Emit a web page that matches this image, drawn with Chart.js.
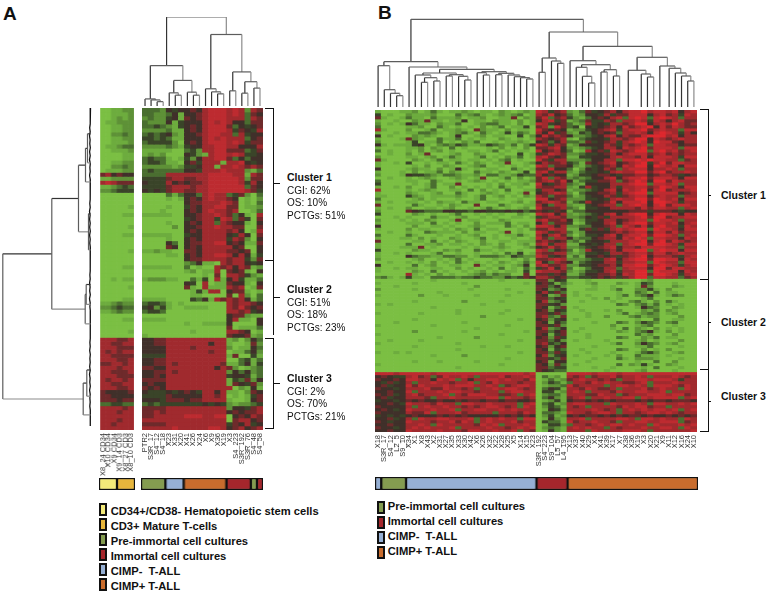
<!DOCTYPE html>
<html>
<head>
<meta charset="utf-8">
<title>Methylation clusters</title>
<script src="https://cdn.jsdelivr.net/npm/chart.js@4"></script>
<style>
  html, body { margin: 0; background: #fff; }
  body { position: relative; width: 775px; height: 599px; overflow: hidden; font-family: "Liberation Sans", Arial, sans-serif; color: #111; }
  canvas { position: absolute; filter: blur(0.5px); }
  .t { position: absolute; white-space: pre; }
  .b { font-weight: bold; }
  .line { position: absolute; background: #111; }
  .swatch { position: absolute; box-sizing: border-box; border: 2px solid #111; }
</style>
</head>
<body>
<script>
// cell levels: 0 bright green .. 4/5 dark .. 9 bright red
const heatColors = ['#7bbf43', '#6dac3e', '#5e9137', '#4a6e30', '#3a4429', '#40302a', '#6e2a2b', '#a02a2e', '#bd2b30', '#dd282e'];

const labelsA1 = ['X8_24 CD34', 'X10 CD34', 'X9 CD34', 'X9_14 CD3', 'X8_27 CD3', 'X8_10 CD3'];
const labelsA2 = ['PTR2', 'S3R_17', 'S4_12', 'S4_18', 'X23', 'X31', 'X20', 'X41', 'X26', 'X24', 'X6', 'X9', 'X36', 'X19', 'X3', 'S4_223', 'S3R_192', 'S3R_76', 'S4_48', 'S4_58'];
const labelsB = ['X18', 'S3R_17', 'S4_12', 'L2_5', 'S9_10', 'X34', 'X1', 'X8', 'X43', 'X2', 'X31', 'X27', 'X35', 'X33', 'X30', 'X42', 'X6', 'X26', 'X32', 'X22', 'X28', 'X25', 'X5', 'X14', 'X15', 'X23', 'S3R_192', 'S4_223', 'S9_104', 'L5_57', 'L4_195', 'X13', 'X37', 'X40', 'X29', 'X4', 'X41', 'X39', 'X17', 'X7', 'X38', 'X36', 'X19', 'X3', 'X20', 'X21', 'X9', 'X11', 'X12', 'X16', 'X24', 'X10'];

const rowsA1 = [
  '001122','001112','001212','011222','001122','001122','002232','001122','001112','011233','001112','000011','000011','001122','002232','011122',
  '675655','112222','787666','112343','223444',
  '000000','000000','000000','000001','000000','000011','000000','000000','000001','000000','000011','000000','000000','000000','000001','000000','000000',
  '000000','000011','000000','000000','001011','000000','000001','000000','000000','000011',
  '112322','223433','112322',
  '000000','000011','000000','000000','000001','000000',
  '777667','776677','777666','767677','776666','777667','667767','777677','776667','777666','767767','776677','777667','655556','665555','666566',
  '334433','777767','777677','777777','777677','776777','777777'
];

const rowsA2 = [
  '3332 545 565 7888 787 2 76','3322 351 556 7888 787 3 65','2322 451 656 7888 777 3 76','3222 514 555 7878 755 3 66',
  '3343 214 565 7888 635 4 56','2222 311 565 7888 746 5 47','3434 521 556 7887 737 4 55','4434 311 555 7878 777 3 56',
  '3444 420 565 7888 787 4 66','2222 321 455 7788 775 5 57','1111 100 342 7788 666 3 46','1212 000 542 1788 787 4 45',
  '3433 101 425 7788 635 3 55','3443 110 564 7771 778 5 45','2222 212 445 7717 787 6 76','3433 333 554 7778 777 2 13',
  '3333 777 777 7888 877 1 76','4444 677 667 7888 887 2 66','5444 756 566 7888 887 4 75','4444 677 767 7888 888 3 65','5454 677 667 7888 888 7 64',
  '0000 313 553 7877 346 2 03','0000 101 565 7877 650 1 02','0000 000 566 7778 760 1 03','0000 100 465 7788 660 1 12',
  '0001 000 565 7877 670 0 13','1111 100 556 7787 635 1 07','0000 000 456 7748 736 4 06','0000 100 565 7737 655 1 05',
  '0000 020 556 7787 766 0 06','0000 000 565 7777 675 0 17','1111 100 455 7777 547 5 06','0000 100 565 7777 476 2 05',
  '0000 530 566 7788 565 1 16','0000 650 565 7777 756 0 05','1121 100 665 7777 665 6 05','0000 110 565 7788 757 5 14','0000 000 566 7777 677 4 26',
  '0000 000 235 1107 677 5 45','1111 100 301 0076 757 6 12','0000 000 120 1170 656 1 05','0000 000 000 1060 776 4 21','1222 110 031 4071 574 1 13',
  '0000 000 540 7011 655 1 05','0000 000 610 7111 767 0 16','0000 000 014 1770 566 1 01','0000 000 011 0000 607 2 03','1111 000 043 5176 767 5 13',
  '3443 101 000 0000 767 7 65','4524 100 111 1000 768 6 56','3443 000 000 0000 776 7 45',
  '0000 000 000 0000 566 2 11','1111 000 000 0000 571 1 05','0000 000 100 1111 500 0 05','0000 000 000 0000 601 1 13','0000 000 010 0000 776 5 01','1000 000 000 0000 655 6 12',
  '5566 777 777 7777 120 2 53','5566 777 777 7577 100 1 62','5555 777 767 7777 201 1 53','5555 777 777 7677 011 3 52',
  '4444 777 777 7777 160 0 41','5566 777 777 7777 003 4 13','5566 767 777 7776 113 5 14','6655 777 777 7757 620 1 23',
  '5566 767 777 7777 253 5 23','5565 777 777 7777 455 4 13','6666 777 777 7777 143 6 25','5655 777 777 7777 165 4 62',
  '6565 777 777 7777 702 1 51','5444 545 654 7757 110 2 65','4444 655 555 7767 010 1 46','5554 666 566 7777 100 1 56',
  '3434 444 444 5454 212 2 34','6666 777 777 7777 255 4 67','6676 777 777 7777 565 6 67','6677 777 888 7788 056 5 76',
  '7777 777 777 7777 067 7 56','6666 777 777 7777 465 7 45','7777 787 777 7887 567 5 67'
];

const rowsB = [
  '1 0001 1201310 1121011 0210121 87467 213645 67578 89788 78578','4 0100 2111200 0312310 1212301 76856 312554 74668 88578 67487',
  '6 1001 3110311 1201120 0116021 68367 421356 57838 98389 87377','1 0010 0216110 1150110 2110201 57846 123644 76377 87487 57866',
  '2 0101 5311021 1300123 3110201 87456 312745 47767 99578 79767','3 0000 1120031 0101020 1301140 67286 340545 67586 78958 68766',
  '7 1000 2001301 1210621 1020110 86565 122456 78478 89678 77388','1 0010 1133210 1231031 0141320 75846 214356 56377 87589 87475',
  '5 0100 0212100 1500120 1100402 58676 522345 78576 68999 78577','1 0001 6210031 1301010 0210101 76567 103455 47767 99587 67877',
  '2 0000 1401130 1021300 1011210 56357 332645 67478 98598 86577','5 1011 1451023 2431124 3213024 87476 125555 76476 78388 77566',
  '1 0000 1120210 3010001 0201020 66785 212345 77587 89688 87388','3 0100 1020120 1001101 3010110 85675 301756 48767 99389 78678',
  '0 0100 2016000 1200210 0100401 46876 223445 67578 88678 67677','2 0000 1101201 3100130 1021301 78656 114455 57877 68588 87488',
  '6 1000 0210130 1101101 0230100 86477 222355 77388 98988 77367','1 0010 4001011 0310210 1160012 57667 431656 78567 89479 68877',
  '1 0000 0102002 1001230 0101010 87366 521345 67587 99598 78588','5 0000 1211020 1510101 1003101 66855 302545 76378 88577 87377',
  '1 0001 0201130 2100311 0210140 78477 213445 47877 99689 67787','2 0001 5443213 3211203 3112433 75655 124456 65466 77567 76456',
  '0 0100 1012100 1210160 0130201 68376 232355 78578 89688 87588','3 0000 1100310 0101210 1010112 67868 513446 67367 98599 68777',
  '4 0000 0101301 1600001 0201120 85467 321555 57778 99388 78377','1 0010 2001300 2010101 0310100 76677 214745 57477 88679 87588',
  '7 0000 1012100 1103020 1030011 47756 122345 78587 89589 67778','1 0000 2100120 0310012 1010160 56787 203556 67478 99388 88567',
  '1 1000 4210111 1210130 1201021 76366 312455 76467 88578 77377','3 0000 0120100 0100130 0100100 88567 222445 47877 99698 78588',
  '1 0100 1101021 1031101 1001201 67876 134755 68588 89599 87477','6 0000 0310010 2100600 0310011 75377 211456 77378 98589 68887',
  '1 0100 2001101 2001013 1010120 86667 320445 57777 68688 77378','2 0000 6543335 5443554 4454534 65465 133555 55556 66466 65455',
  '4 0000 0210100 1300101 0100210 87857 212345 78578 99589 88587','0 0010 1000311 0120010 1001101 46776 223546 47777 89699 67788',
  '2 0001 0102100 1601100 0210000 78667 512445 77567 88398 87377','1 0000 1110301 0100201 1130110 57366 401455 78578 99688 78578',
  '5 0000 0200110 1001210 0031020 88757 223355 67387 68589 77487','1 0000 2011001 0210301 1000102 66877 114646 47878 99398 87588',
  '0 0100 1003211 1020110 0160100 87467 312555 56767 88588 68677','3 0000 3100010 0101200 1011310 75786 202445 78578 89699 87378',
  '1 0001 1020100 2100130 1001001 86377 523356 77587 98388 77587','6 0000 0110301 0210020 0110111 67656 231455 47778 89589 68767',
  '1 0000 3001120 1101021 0200120 78477 114545 77378 99699 87488','1 0001 1160100 0010100 1210012 56867 223456 78577 68888 77377',
  '4 0000 0211002 1200311 0100100 87356 302755 67588 99389 88588','1 0010 1000130 0100100 1031401 76677 212445 47767 88688 67877',
  '1 0000 5322113 3220133 3214322 87456 131556 56467 89577 76478','2 0000 0120010 1301000 1001020 66787 222344 78578 99699 88587',
  '0 0100 1010201 0310101 0210131 85376 513455 77477 88398 77388','5 0000 0301200 1100610 1101250 78667 224456 67588 99689 87478',
  '1 0010 1100110 0201001 0301031 46857 301355 77378 88599 68877','1 0000 0210301 0010120 1011040 87776 212445 78477 99398 88587',
  '0 0000 7101020 1001231 3220060 66465 113556 67587 99699 87478','2 3101 4110333 3233433 2243465 77656 334456 56467 99388 77367',
  '0 0000 0000100 0000000 0100000 66254 000100 00000 01200 00000','1 0000 0100000 0010000 0000010 56413 100120 00210 14300 01000',
  '0 0010 0000000 0000200 0000000 66352 000010 01000 16200 02100','2 0000 0100000 0001000 0010000 65235 000110 01300 22410 20000',
  '0 0000 0000010 0000000 0000100 57463 010000 00100 32030 11000','1 0000 0020001 0000100 0010000 65126 010100 00130 23510 13200',
  '0 0000 0000000 0000000 0000000 66354 000010 20100 01300 00000','0 0000 0100000 0020000 0100000 57235 001000 01002 31020 31000',
  '1 0100 0000000 0000010 0000000 66452 000000 00320 23130 10100','0 0000 0000100 0000000 0000000 65136 010000 00000 15320 02100',
  '0 0000 0000000 0100000 0010000 56254 001000 10200 02130 21000','1 0000 0010000 0100000 0100000 66463 000100 00130 12320 12000',
  '0 0000 0000000 0000020 0000000 67326 000100 20002 31220 00200','0 0000 0100000 0000000 0000100 56245 010000 00000 10030 01100',
  '0 0010 0000000 0010000 0000000 65153 000010 00320 24320 23000','1 0000 0000100 0000000 0010000 66462 000000 02000 12300 01000',
  '0 0000 0000000 0000100 0000000 57235 001000 01030 21020 10100','0 0000 0200000 0010000 0000010 66356 010000 00210 23510 20100',
  '1 0000 0000000 0000000 0100000 65146 000100 00000 31200 02000','0 0000 0000010 0000200 0000000 56264 000100 00320 02130 11000',
  '0 0100 0010000 0000000 0000100 66352 010000 10000 12010 00200','1 0000 0000000 0100000 0000000 67435 000000 01300 25320 12000',
  '0 0000 0100000 0000010 0010000 56256 000010 00000 11300 00100','0 0000 0000000 0100000 0000000 65143 001000 00320 02010 20000',
  '1 0010 1000000 0000000 0000100 66364 000100 01000 13420 01200','0 0000 0000100 0020000 0000000 57245 010000 10200 31110 10000',
  '0 0000 0000000 0000000 0010000 66436 000010 00310 22210 00100','0 0000 0100010 0000100 0000000 56155 000100 00000 10030 02000',
  '1 0000 0000000 0000000 0100000 65263 010000 00302 14100 21000','0 0000 0000000 0100000 0000000 66344 000010 01000 01030 00100',
  '0 0000 0000000 0000000 0000000 65433 000000 10000 12000 01000',
  '8 8878 8888788 8888888 8888878 00000 888878 88788 88888 88888','5 6544 7867368 7787377 7867787 03120 767367 78677 87377 78767',
  '6 5565 8877587 8375778 8787768 01312 678776 76377 88788 87477','5 4645 7377877 6778376 8777677 02431 377687 87766 78377 78777',
  '5 6455 8687778 7888778 7367887 01223 867777 37887 87388 87687','6 5545 7778668 7767377 8788767 03541 776876 67377 78678 77387',
  '5 5655 8377787 8877677 7378877 04412 787377 76877 88778 37777','6 5645 7867778 3768887 7667378 02331 777668 77367 77888 78867',
  '5 6455 7776377 8777778 8387767 03521 678377 87788 38788 88378','4 5545 6565565 5656656 6566556 01241 566565 65666 56566 56665',
  '5 5654 8777687 7388778 7777378 03412 788777 38777 87388 77878','6 5555 7378778 7767678 8767387 02431 767377 77687 88677 37777',
  '5 6545 8777877 8377887 7878777 01542 777787 67378 78788 78378','6 5555 7668377 7867777 3777687 03321 877678 87377 67887 87677',
  '4 5454 5655565 6565555 5656565 02412 565665 65656 65655 65656','5 5645 7387788 7778378 7877388 01521 778377 77887 38878 77387',
  '6 5455 8777677 8687378 7778677 04331 867787 76377 88778 88367','5 5655 7787387 7777687 8377787 01442 377678 78878 77387 77878',
  '6 5545 7878777 8377778 7767878 02321 787877 37677 78778 87387','5 5655 8777787 7768877 8778376 01521 777387 77788 87377 77778'
];

// dendrograms, hclust style: [left, right, height], negative = leaf, positive = earlier merge (1-based)
const mergesTopA = [
  [-3, -4, 4.3], [-2, 1, 6], [-1, 2, 7], [-6, -7, 10.7], [-5, 4, 13], [-9, -10, 10.7], [-8, 6, 13.7], [5, 7, 25.3], [3, 8, 40],
  [-13, -14, 12], [-12, 10, 14], [-11, 11, 17], [-15, -16, 15], [-17, -18, 12.7], [-19, -20, 17.7], [14, 15, 24], [13, 16, 33.7],
  [12, 17, 70.7], [9, 18, 88]
];
const leavesTopA = [0, 1, 2, 3, 4, 5, 6, 7, 8, 9, 10, 11, 12, 13, 14, 15, 16, 17, 18, 19];

const mergesTopB = [
  [-4, -5, 11.3], [-3, 1, 13.7], [-2, 2, 17.3], [-1, 3, 41.3],
  [-8, -9, 24.7], [-10, -11, 26], [5, 6, 29.3], [-7, 7, 32],
  [-12, -13, 31], [-15, -16, 27], [-14, 10, 30.7], [9, 11, 32.3], [8, 12, 34],
  [-18, -19, 32], [-17, 14, 34.3], [-20, -21, 32.3], [-25, -26, 28], [-24, 17, 29.3], [-23, 18, 30.3], [-22, 19, 32],
  [16, 20, 33.7], [15, 21, 35.3], [13, 22, 37.7], [-6, 23, 40], [4, 24, 45.3],
  [-27, -28, 34.7], [-30, -31, 43.7], [-29, 27, 46], [26, 28, 49],
  [-35, -36, 24], [-34, 30, 30.7], [-33, 31, 39.7], [-37, -38, 35], [-39, -40, 31], [33, 34, 37.3], [32, 35, 42.3], [-32, 36, 46.3],
  [-43, -44, 30], [-42, 38, 33], [-41, 39, 36.7],
  [-49, -50, 26], [-48, 41, 31], [-47, 42, 34], [-46, 43, 38.7], [-45, 44, 41], [40, 45, 49.7],
  [37, 46, 60.7], [29, 47, 75], [25, 48, 87.7]
];
const leavesTopB = [0, 1, 2, 3, 4, 5, 6, 7, 8, 9, 10, 11, 12, 13, 14, 15, 16, 17, 18, 19, 20, 21, 22, 23, 24, 25, 26, 27, 28, 29, 30, 31, 32, 33, 34, 35, 36, 37, 38, 39, 40.4, 42.5, 43.5, 44.5, 45.5, 47, 48, 49, 50, 51];

const mergesLeftA = [
  [-1, -2, 3], [1, -3, 5], [-4, -5, 2], [2, 3, 12], [-6, -7, 4.3], [5, -8, 5.3], [4, 6, 38.7], [-9, -10, 3.7], [8, -11, 7.3], [7, 9, 87.7]
];
const leavesLeftA = [6, 13.3, 18.1, 26.1, 35.2, 43.9, 48.9, 53.8, 65.4, 72, 76.7];
// the dense low branches next to the matrix, one height per row
const fringeLeftA = [0, 0.3, 0.1, 0.5, 0.2, 0.8, 0.3, 1, 0.4, 0.7, 0.2, 0.9, 0.3, 1, 0.2, 0.6, 0.3, 0.9, 0.2, 0.5, 0.3, 0.1, 0.4, 0.2, 0.7, 0.3, 1, 0.4, 0.9, 0.3, 0.8, 0.2, 0.9, 0.3, 0.7, 0.2, 0.4, 0.1, 0.3, 0.2, 0.5, 0.2, 0.6, 0.3, 0.9, 0.4, 0.8, 0.2, 1, 0.3, 0.6, 0.2, 0.4, 0.1, 0.3, 0.1, 0.2, 0.4, 0.2, 0.6, 0.3, 0.8, 0.2, 0.6, 0.3, 0.8, 0.3, 1, 0.4, 0.7, 0.2, 0.9, 0.3, 0.6, 0.3, 0.7, 0.2, 0.4, 0.2, 0.3, 0];

// colour strip under each matrix: samples per group
const groupColors = { yellow: '#f3ea7a', gold: '#e7b63c', green: '#849c50', red: '#a5262c', blue: '#96b0d5', orange: '#c96c2d' };
const stripA1 = [3, 3];
const stripA1Colors = ['yellow', 'gold'];
const stripA2 = [4, 3, 7, 4, 1, 1];
const stripA2Colors = ['green', 'blue', 'orange', 'red', 'green', 'red'];
const stripB = [1, 4, 21, 5, 21];
const stripBColors = ['blue', 'green', 'blue', 'red', 'orange'];

const clusterTextA = [
  ['Cluster 1', 'CGI: 62%', 'OS: 10%', 'PCTGs: 51%'],
  ['Cluster 2', 'CGI: 51%', 'OS: 18%', 'PCTGs: 23%'],
  ['Cluster 3', 'CGI: 2%', 'OS: 70%', 'PCTGs: 21%']
];
const legendA = [['CD34+/CD38- Hematopoietic stem cells', 'yellow'], ['CD3+ Mature T-cells', 'gold'], ['Pre-immortal cell cultures', 'green'], ['Immortal cell cultures', 'red'], ['CIMP-  T-ALL', 'blue'], ['CIMP+ T-ALL', 'orange']];
const legendB = [['Pre-immortal cell cultures', 'green'], ['Immortal cell cultures', 'red'], ['CIMP-  T-ALL', 'blue'], ['CIMP+ T-ALL', 'orange']];

function addCanvas(x, y, w, h) {
  const c = document.createElement('canvas');
  c.width = w;
  c.height = h;
  c.style.left = x + 'px';
  c.style.top = y + 'px';
  c.style.width = w + 'px';
  c.style.height = h + 'px';
  document.body.appendChild(c);
  return c;
}

function addText(text, x, cy, size, bold) {
  const d = document.createElement('div');
  d.className = bold ? 't b' : 't';
  d.textContent = text;
  d.style.left = x + 'px';
  d.style.top = (cy - size * 0.6) + 'px';
  d.style.fontSize = size + 'px';
  d.style.lineHeight = (size * 1.2) + 'px';
  document.body.appendChild(d);
}

function addLine(x, y, w, h) {
  const d = document.createElement('div');
  d.className = 'line';
  d.style.cssText = `left:${x}px;top:${y}px;width:${w}px;height:${h}px`;
  document.body.appendChild(d);
}

function bracket(x1, x2, x3, y1, y2, tickY, openEnd) {
  addLine(x1, y1, x2 - x1, 1.4);
  if (!openEnd) addLine(x1, y2, x2 - x1, 1.4);
  addLine(x2, y1, 1.4, y2 - y1 + 1.4);
  addLine(x2, tickY, x3 - x2, 1.4);
}

function heatmap(x, y, w, h, rows, labels) {
  const pad = 5;
  const labelArea = 46;
  const cells = rows.map(r => r.replace(/ /g, '').split('').map(Number));
  new Chart(addCanvas(x - pad, y, w + pad * 2, h + labelArea), {
    type: 'bar',
    data: {
      labels,
      datasets: cells.map(row => ({
        data: row.map(() => 1),
        backgroundColor: row.map(v => heatColors[v]),
        barPercentage: 1,
        categoryPercentage: 1,
        borderWidth: 0
      }))
    },
    options: {
      responsive: false,
      animation: false,
      layout: { padding: { left: pad, right: pad, top: 0, bottom: 0 } },
      plugins: { legend: { display: false }, tooltip: { enabled: false } },
      scales: {
        x: {
          stacked: true,
          grid: { display: false, drawTicks: false },
          border: { display: false },
          ticks: { autoSkip: false, minRotation: 90, maxRotation: 90, padding: 3, color: '#333', font: { family: 'Liberation Sans', size: 7.5 } },
          afterFit(s) { s.height = labelArea; s.paddingLeft = 0; s.paddingRight = 0; }
        },
        y: { stacked: true, reverse: true, min: 0, max: cells.length, display: false }
      }
    }
  });
}

function dendrogram(x, y, w, h, merges, leaves, span, maxHeight, horizontal, fringe) {
  const nodes = [];
  const pos = m => m < 0 ? { at: leaves[-m - 1], h: 0 } : nodes[m - 1];
  const pt = (at, ht) => horizontal ? { x: ht, y: at } : { x: at, y: ht };
  const datasets = merges.map(([l, r, ht]) => {
    const a = pos(l), b = pos(r);
    nodes.push({ at: (a.at + b.at) / 2, h: ht });
    return {
      data: [pt(a.at + 0.5, a.h), pt(a.at + 0.5, ht), pt(b.at + 0.5, ht), pt(b.at + 0.5, b.h)],
      showLine: true,
      pointRadius: 0,
      borderWidth: 1.2,
      segment: { borderColor: c => ['#333', '#5c5c5c', '#8c8c8c'][c.p0DataIndex] }
    };
  });
  if (fringe) {
    datasets.push({
      data: fringe.map((v, i) => pt(i, v)),
      showLine: true,
      pointRadius: 0,
      borderWidth: 1.3,
      borderColor: '#111'
    });
  }
  const along = { min: 0, max: span, display: false };
  const across = { min: horizontal ? -1.5 : 0, max: maxHeight, display: false };
  new Chart(addCanvas(x, y, w, h), {
    type: 'scatter',
    data: { datasets },
    options: {
      responsive: false,
      animation: false,
      clip: false,
      plugins: { legend: { display: false }, tooltip: { enabled: false } },
      scales: horizontal
        ? { x: { ...across, reverse: true }, y: { ...along, reverse: true } }
        : { x: along, y: across }
    }
  });
}

function strip(x, y, w, h, counts, names) {
  new Chart(addCanvas(x, y, w, h), {
    type: 'bar',
    data: {
      labels: [''],
      datasets: counts.map((n, i) => ({
        data: [n],
        backgroundColor: groupColors[names[i]],
        borderColor: '#111',
        borderWidth: 1.5,
        borderSkipped: false,
        barPercentage: 1,
        categoryPercentage: 1
      }))
    },
    options: {
      indexAxis: 'y',
      responsive: false,
      animation: false,
      plugins: { legend: { display: false }, tooltip: { enabled: false } },
      scales: {
        x: { stacked: true, min: 0, max: counts.reduce((s, n) => s + n, 0), display: false },
        y: { stacked: true, display: false }
      }
    }
  });
}

function legend(items, swatchX, textX, firstY, swatchShift) {
  items.forEach(([name, color], i) => {
    const cy = firstY + i * 15;
    const s = document.createElement('div');
    s.className = 'swatch';
    s.style.cssText = `left:${swatchX}px;top:${cy - 6.5 - swatchShift}px;width:8px;height:13px;background:${groupColors[color]}`;
    document.body.appendChild(s);
    addText(name, textX, cy, 11.2, true);
  });
}

// panel A
addText('A', 3, 14, 19, true);
dendrogram(141.7, 17, 121.3, 89, mergesTopA, leavesTopA, 20, 88, false);
dendrogram(0, 108, 92, 322, mergesLeftA, leavesLeftA, 81, 90.5, true, fringeLeftA);
heatmap(100.3, 108, 33.7, 322, rowsA1, labelsA1);
heatmap(141.7, 108, 121.3, 322, rowsA2, labelsA2);
strip(99.3, 478, 36, 12, stripA1, stripA1Colors);
strip(141, 478, 121.5, 12, stripA2, stripA2Colors);
bracket(265, 273, 280, 108, 260, 183);
bracket(265, 273, 280, 260, 334, 297, true);
bracket(265, 273, 280, 338, 428, 383);
[177, 289, 378].forEach((top, i) => {
  clusterTextA[i].forEach((s, j) => addText(s, 287, top + (j ? 1 + j * 12.5 : 0), j ? 10 : 10.5, j === 0));
});
legend(legendA, 99, 110.7, 512, 2.5);

// panel B
addText('B', 378, 13, 19, true);
dendrogram(375.3, 17, 322, 90, mergesTopB, leavesTopB, 52, 90, false);
heatmap(375.3, 110, 322, 322, rowsB, labelsB);
strip(375, 477, 322.5, 13, stripB, stripBColors);
bracket(700, 708, 711, 109, 279, 195);
bracket(700, 708, 711, 279, 369, 322);
bracket(700, 708, 711, 369, 431, 401);
[195, 322, 396].forEach((cy, i) => addText(`Cluster ${i + 1}`, 721, cy, 10.5, true));
legend(legendB, 376.5, 387.7, 507, 0);
</script>
</body>
</html>
